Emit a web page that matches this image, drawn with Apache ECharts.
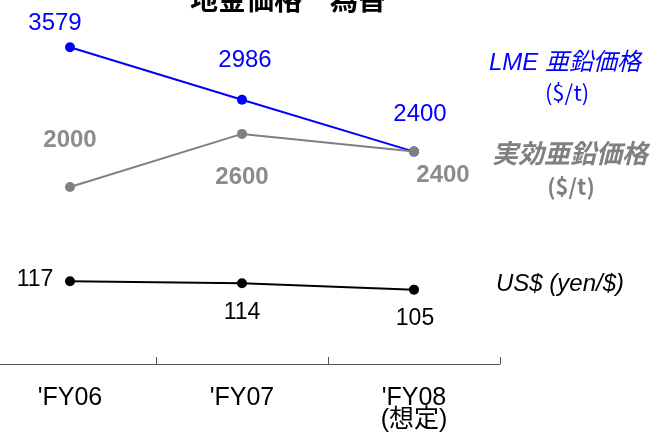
<!DOCTYPE html>
<html>
<head>
<meta charset="utf-8">
<script src="https://cdn.jsdelivr.net/npm/echarts@6/dist/echarts.min.js"></script>
<style>
  html, body { margin: 0; padding: 0; background: #fff; overflow: hidden; }
  /* 左端の軸を画面外から始めるため、少し左にずらす */
  #main { position: absolute; left: -16px; top: 0; width: 668px; height: 437px; }
</style>
</head>
<body>
<div id="main"></div>
<script>
// データ
const years = ["'FY06", "'FY07", "'FY08\n(想定)"];
const lmePrice = [3579, 2986, 2400];
const effPrice = [2000, 2600, 2400];
const usdYen = [117, 114, 105];

// ラベル位置 (点からのずれ)
const lmeOffsets = [[-15, -24], [3, -39], [6, -37]];
const effOffsets = [[0, -47], [0, 43], [29, 24]];
const usdOffsets = [[-35, -2], [0, 29], [1, 29]];

const FONT = "'Liberation Sans', 'Noto Sans CJK JP', sans-serif";
const CJK = "'Noto Sans CJK JP', sans-serif";
const SHIFT = 16;

function withOffsets(values, offsets) {
  return values.map((v, i) => ({ value: v, label: { offset: offsets[i] } }));
}

const myChart = echarts.init(document.getElementById("main"));
const option = {
  backgroundColor: "#fff",
  animation: false,
  title: {
    text: "地金価格　為替",
    left: 185 + SHIFT,
    top: -17,
    textStyle: {
      color: "#000",
      fontSize: 28,
      fontWeight: "bold",
      fontFamily: FONT
    }
  },
  grid: {
    left: 0,
    right: 152,
    top: 10,
    bottom: 73
  },
  xAxis: {
    type: "category",
    data: years,
    axisLine: { lineStyle: { color: "#555", width: 1 } },
    axisTick: { show: true, inside: true, length: 7, lineStyle: { color: "#555" } },
    axisLabel: {
      color: "#000",
      fontSize: 25,
      lineHeight: 22,
      margin: 23,
      fontFamily: FONT
    },
    splitLine: { show: false }
  },
  yAxis: [
    { type: "value", min: 0, max: 4000, show: false },
    { type: "value", min: 0, max: 500, show: false }
  ],
  series: [
    {
      name: "LME 亜鉛価格",
      type: "line",
      data: withOffsets(lmePrice, lmeOffsets),
      symbol: "circle",
      symbolSize: 10,
      lineStyle: { color: "#0000ff", width: 2 },
      itemStyle: { color: "#0000ff" },
      label: {
        show: true,
        position: "inside",
        color: "#0000ff",
        fontSize: 24,
        fontFamily: FONT
      }
    },
    {
      name: "実効亜鉛価格",
      type: "line",
      data: withOffsets(effPrice, effOffsets),
      symbol: "circle",
      symbolSize: 10,
      lineStyle: { color: "#808080", width: 2 },
      itemStyle: { color: "#808080" },
      label: {
        show: true,
        position: "inside",
        color: "#8c8c8c",
        fontWeight: "bold",
        fontSize: 24,
        fontFamily: FONT
      }
    },
    {
      name: "US$ (yen/$)",
      type: "line",
      yAxisIndex: 1,
      data: withOffsets(usdYen, usdOffsets),
      symbol: "circle",
      symbolSize: 10,
      lineStyle: { color: "#000", width: 2 },
      itemStyle: { color: "#000" },
      label: {
        show: true,
        position: "inside",
        color: "#000",
        fontSize: 23,
        fontFamily: FONT
      }
    }
  ],
  graphic: [
    {
      type: "text", x: 565 + SHIFT, y: 63,
      style: { text: "LME 亜鉛価格", fill: "#0000ff", font: "italic 24px " + FONT, textAlign: "center", textVerticalAlign: "middle" }
    },
    {
      type: "text", x: 567 + SHIFT, y: 93,
      style: { text: "($/t)", fill: "#0000ff", font: "22px " + CJK, textAlign: "center", textVerticalAlign: "middle" }
    },
    {
      type: "text", x: 570 + SHIFT, y: 156,
      style: { text: "実効亜鉛価格", fill: "#808080", font: "italic bold 26px " + FONT, textAlign: "center", textVerticalAlign: "middle" }
    },
    {
      type: "text", x: 571 + SHIFT, y: 187,
      style: { text: "($/t)", fill: "#808080", font: "bold 22px " + CJK, textAlign: "center", textVerticalAlign: "middle" }
    },
    {
      type: "text", x: 560 + SHIFT, y: 284,
      style: { text: "US$ (yen/$)", fill: "#000", font: "italic 24px " + FONT, textAlign: "center", textVerticalAlign: "middle" }
    }
  ]
};

option && myChart.setOption(option);
</script>
</body>
</html>
